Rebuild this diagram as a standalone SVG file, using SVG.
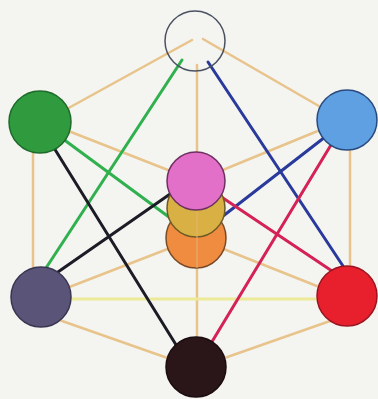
<svg xmlns="http://www.w3.org/2000/svg" width="378" height="399" viewBox="0 0 378 399">
<style>
.tan{stroke:#e8c48c;stroke-width:2.5;fill:none;stroke-linecap:round}
.yel{stroke:#ecea98;stroke-width:3;fill:none}
.c{stroke-width:3;fill:none;stroke-linecap:round}
.node{stroke-width:1.5}
</style>
<rect width="378" height="399" fill="#f4f4f0"/>
<g id="connectors">
  <line class="tan" x1="192" y1="40" x2="45" y2="121"/>
  <line class="tan" x1="203" y1="39" x2="343" y2="120"/>
  <line class="tan" x1="197" y1="65" x2="197" y2="180"/>
  <line class="tan" x1="33" y1="125" x2="33" y2="295"/>
  <line class="tan" x1="350" y1="125" x2="350" y2="295"/>
  <line class="tan" x1="48" y1="123" x2="196" y2="181"/>
  <line class="tan" x1="342" y1="121" x2="196" y2="181"/>
  <line class="tan" x1="41" y1="298" x2="196" y2="238"/>
  <line class="tan" x1="347" y1="298" x2="196" y2="238"/>
  <line class="tan" x1="45" y1="315" x2="196" y2="368"/>
  <line class="tan" x1="350" y1="314" x2="196" y2="368"/>
  <line class="tan" x1="197" y1="238" x2="197" y2="367"/>
  <line class="yel" x1="41" y1="299" x2="347" y2="299"/>
  <line class="c" stroke="#30b04e" x1="182" y1="60" x2="46" y2="268"/>
  <line class="c" stroke="#30b04e" x1="40" y1="122" x2="196" y2="237"/>
  <line class="c" stroke="#2a3a9c" x1="208" y1="62" x2="343" y2="266"/>
  <line class="c" stroke="#2a3a9c" x1="347" y1="120" x2="196" y2="237"/>
  <line class="c" stroke="#1c1c26" x1="46" y1="135" x2="178" y2="348"/>
  <line class="c" stroke="#d42256" x1="340" y1="130" x2="210" y2="345"/>
  <line class="c" stroke="#1c1c26" x1="45" y1="281" x2="196" y2="176"/>
  <line class="c" stroke="#d42256" x1="196" y1="180" x2="332" y2="271"/>
</g>
<g id="node-black"><circle class="node" cx="196" cy="367" r="30" fill="#2a1519" stroke="#1a0c10"/></g>
<g id="node-gray"><circle class="node" cx="41" cy="297" r="30" fill="#5a5478" stroke="#3a3550"/></g>
<g id="node-red"><circle class="node" cx="347" cy="296" r="30" fill="#e8202e" stroke="#9a1420"/></g>
<g id="node-green"><circle class="node" cx="40" cy="122" r="31" fill="#2f9a3e" stroke="#1e6a2a"/></g>
<g id="node-blue"><circle class="node" cx="347" cy="120" r="30" fill="#5ea0e2" stroke="#2a4a7e"/></g>
<g id="node-orange"><circle class="node" cx="196" cy="238" r="30" fill="#f08c40" stroke="#7a4a28"/></g>
<g id="node-yellow"><circle class="node" cx="196" cy="208" r="29" fill="#d8b044" stroke="#6e5a24"/></g>
<line x1="197" y1="210" x2="197" y2="268" stroke="#e8b070" stroke-width="2" opacity="0.5"/>
<g id="node-pink"><circle class="node" cx="196" cy="181" r="29" fill="#e270c8" stroke="#6e3060"/></g>
<g id="node-top"><circle cx="195" cy="41" r="30" fill="none" stroke="#4a5262" stroke-width="1.5"/></g>
</svg>
